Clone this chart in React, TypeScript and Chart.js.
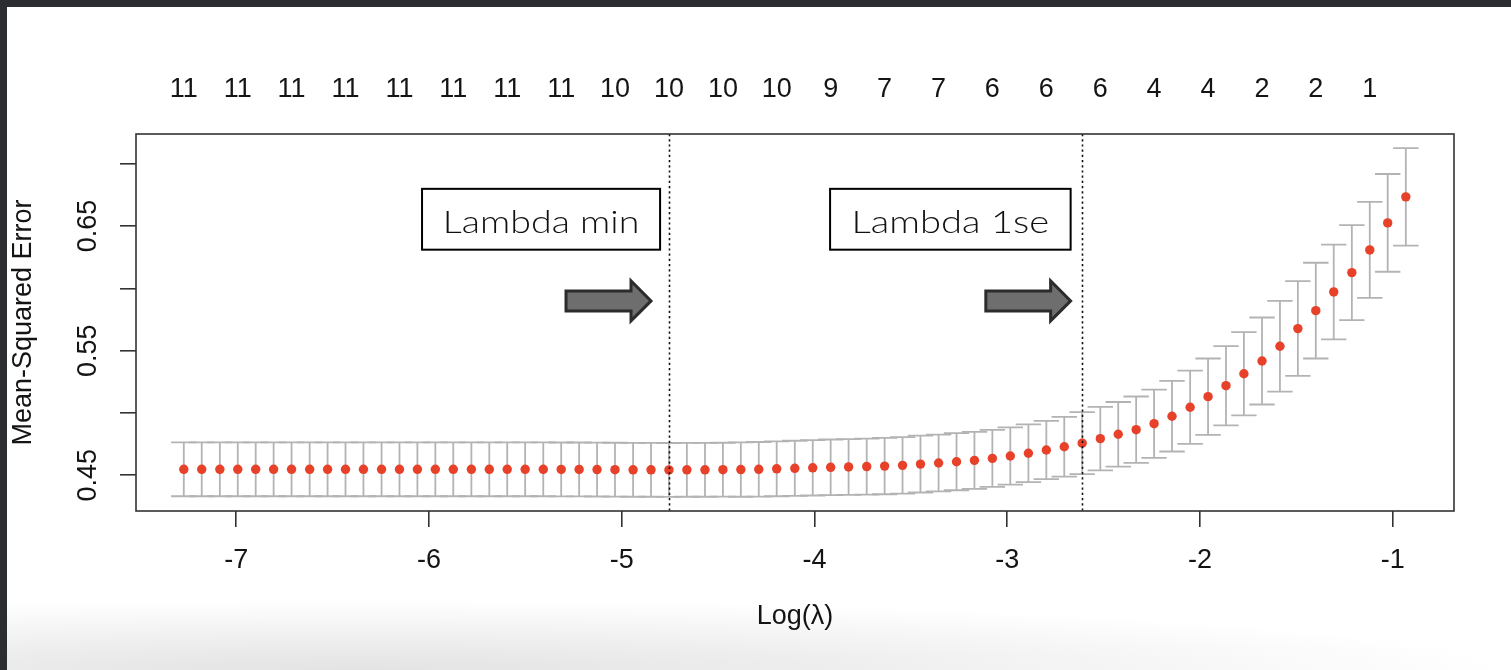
import React, { useEffect, useRef } from 'react';
import { Chart, registerables } from 'chart.js';

Chart.register(...registerables);

// ---- data ----
const logLambda = [
  -7.272, -7.179, -7.085, -6.992, -6.899, -6.806, -6.713, -6.619, -6.526, -6.433,
  -6.340, -6.246, -6.153, -6.060, -5.967, -5.874, -5.780, -5.687, -5.594, -5.501,
  -5.407, -5.314, -5.221, -5.128, -5.035, -4.941, -4.848, -4.755, -4.662, -4.568,
  -4.475, -4.382, -4.289, -4.196, -4.102, -4.009, -3.916, -3.823, -3.729, -3.636,
  -3.543, -3.450, -3.356, -3.263, -3.170, -3.077, -2.984, -2.890, -2.797, -2.704,
  -2.611, -2.517, -2.424, -2.331, -2.238, -2.145, -2.051, -1.958, -1.865, -1.772,
  -1.678, -1.585, -1.492, -1.399, -1.306, -1.212, -1.119, -1.026, -0.932,
];

const cvMean = [
  0.4548, 0.4548, 0.4548, 0.4548, 0.4548, 0.4548, 0.4548, 0.4548, 0.4548, 0.4548,
  0.4548, 0.4548, 0.4548, 0.4548, 0.4548, 0.4548, 0.4548, 0.4548, 0.4548, 0.4548,
  0.4548, 0.4547, 0.4547, 0.4546, 0.4545, 0.4544, 0.4544, 0.4543, 0.4544, 0.4544,
  0.4545, 0.4546, 0.4548, 0.4552, 0.4556, 0.4560, 0.4564, 0.4567, 0.4570, 0.4574,
  0.4580, 0.4590, 0.4599, 0.4609, 0.4620, 0.4636, 0.4655, 0.4677, 0.4703, 0.4729,
  0.4758, 0.4794, 0.4829, 0.4866, 0.4914, 0.4974, 0.5046, 0.5131, 0.5219, 0.5315,
  0.5417, 0.5535, 0.5677, 0.5821, 0.5971, 0.6126, 0.6308, 0.6525, 0.6734,
];

const cvSd = [
  0.0216, 0.0216, 0.0216, 0.0216, 0.0216, 0.0216, 0.0216, 0.0216, 0.0216, 0.0216,
  0.0216, 0.0216, 0.0216, 0.0216, 0.0216, 0.0216, 0.0216, 0.0216, 0.0216, 0.0216,
  0.0216, 0.0216, 0.0216, 0.0216, 0.0216, 0.0216, 0.0216, 0.0216, 0.0216, 0.0216,
  0.0216, 0.0218, 0.0219, 0.0220, 0.0221, 0.0222, 0.0223, 0.0224, 0.0225, 0.0226,
  0.0227, 0.0228, 0.0228, 0.0229, 0.0229, 0.0229, 0.0230, 0.0231, 0.0234, 0.0240,
  0.0249, 0.0255, 0.0259, 0.0266, 0.0274, 0.0283, 0.0294, 0.0306, 0.0318, 0.0334,
  0.0349, 0.0364, 0.0380, 0.0384, 0.0380, 0.0381, 0.0385, 0.0392, 0.0391,
];

// number of non-zero coefficients, shown above every third lambda
const dfLabels = [
  '11', '11', '11', '11', '11', '11', '11', '11', '10', '10', '10', '10',
  '9', '7', '7', '6', '6', '6', '4', '4', '2', '2', '1',
];
const dfEvery = 3;

const xTicks = [-7, -6, -5, -4, -3, -2, -1];
const yTicks = [0.45, 0.5, 0.55, 0.6, 0.65, 0.7];
const yTickLabels = ['0.45', '', '0.55', '', '0.65', ''];

const lambdaMinIndex = 27;
const lambda1seIndex = 50;

const xTitle = 'Log(λ)';
const yTitle = 'Mean-Squared Error';

// annotation placement (data units)
const annotations = [
  { text: 'Lambda min', lineIndex: lambdaMinIndex, boxX: [-6.036, -4.801], arrowX: [-5.289, -4.848] },
  { text: 'Lambda 1se', lineIndex: lambda1seIndex, boxX: [-3.919, -2.671], arrowX: [-3.111, -2.671] },
];
const boxY = [0.6798, 0.631];
const arrowY = 0.5899;

// ---- styles ----
const FONT = '"Liberation Sans", Arial, Helvetica, sans-serif';
const TEXT = '#141414';
const AXIS = '#333333';
const RED = '#e8412a';
const BAR = '#b3b3b3';

const X_MIN = -7.52;
const X_MAX = -0.682;
const Y_MIN = 0.42136;
const Y_MAX = 0.7238;

const overlayPlugin = {
  id: 'cvOverlay',
  beforeDatasetsDraw(chart: any) {
    const { ctx, scales } = chart;
    const xs = scales.x;
    const ys = scales.y;
    ctx.save();
    ctx.strokeStyle = BAR;
    ctx.lineWidth = 1.8;
    const cap = 12.7;
    for (let i = 0; i < logLambda.length; i++) {
      const px = xs.getPixelForValue(logLambda[i]);
      const top = ys.getPixelForValue(cvMean[i] + cvSd[i]);
      const bot = ys.getPixelForValue(cvMean[i] - cvSd[i]);
      ctx.beginPath();
      ctx.moveTo(px, top);
      ctx.lineTo(px, bot);
      ctx.moveTo(px - cap, top);
      ctx.lineTo(px + cap, top);
      ctx.moveTo(px - cap, bot);
      ctx.lineTo(px + cap, bot);
      ctx.stroke();
    }
    ctx.restore();
  },
  afterDatasetsDraw(chart: any) {
    const { ctx, scales, chartArea } = chart;
    const xs = scales.x;
    const ys = scales.y;
    ctx.save();
    // dotted reference lines
    ctx.strokeStyle = '#111';
    ctx.lineWidth = 1.6;
    ctx.setLineDash([2.2, 3.0]);
    [lambdaMinIndex, lambda1seIndex].forEach((idx) => {
      const px = Math.round(xs.getPixelForValue(logLambda[idx])) + 0.5;
      ctx.beginPath();
      ctx.moveTo(px, chartArea.top);
      ctx.lineTo(px, chartArea.bottom);
      ctx.stroke();
    });
    ctx.setLineDash([]);

    annotations.forEach((a) => {
      const x0 = xs.getPixelForValue(a.boxX[0]);
      const x1 = xs.getPixelForValue(a.boxX[1]);
      const y0 = ys.getPixelForValue(boxY[0]);
      const y1 = ys.getPixelForValue(boxY[1]);
      ctx.fillStyle = '#fff';
      ctx.fillRect(x0, y0, x1 - x0, y1 - y0);
      ctx.strokeStyle = '#000';
      ctx.lineWidth = 2;
      ctx.strokeRect(x0, y0, x1 - x0, y1 - y0);

      ctx.font = '300 31px Lato, "Open Sans", sans-serif';
      const m = ctx.measureText(a.text);
      const ink = m.actualBoundingBoxLeft + m.actualBoundingBoxRight;
      const target = (x1 - x0) * 0.8;
      const sx = ink > 0 ? target / ink : 1;
      ctx.save();
      ctx.translate((x0 + x1) / 2, y0 + (y1 - y0) * 0.725);
      ctx.scale(sx, 1);
      ctx.fillStyle = '#111';
      ctx.textAlign = 'center';
      ctx.textBaseline = 'alphabetic';
      ctx.fillText(a.text, 0, 0);
      ctx.restore();

      // arrow
      const ax0 = xs.getPixelForValue(a.arrowX[0]);
      const ax1 = xs.getPixelForValue(a.arrowX[1]);
      const ay = ys.getPixelForValue(arrowY);
      const bodyH = 10;
      const headH = 20;
      const headL = 20;
      const hx = ax1 - headL;
      ctx.beginPath();
      ctx.moveTo(ax0, ay - bodyH);
      ctx.lineTo(hx, ay - bodyH);
      ctx.lineTo(hx, ay - headH);
      ctx.lineTo(ax1, ay);
      ctx.lineTo(hx, ay + headH);
      ctx.lineTo(hx, ay + bodyH);
      ctx.lineTo(ax0, ay + bodyH);
      ctx.closePath();
      ctx.fillStyle = '#6e6e6e';
      ctx.fill();
      ctx.lineJoin = 'miter';
      ctx.lineWidth = 3;
      ctx.strokeStyle = '#2c2c2c';
      ctx.stroke();
    });
    ctx.restore();
  },
  afterDraw(chart: any) {
    const { ctx, chartArea } = chart;
    ctx.save();
    ctx.strokeStyle = AXIS;
    ctx.lineWidth = 1.6;
    ctx.strokeRect(chartArea.left, chartArea.top, chartArea.right - chartArea.left, chartArea.bottom - chartArea.top);
    ctx.restore();
  },
};

export default function App() {
  const canvasRef = useRef<HTMLCanvasElement | null>(null);

  useEffect(() => {
    const canvas = canvasRef.current;
    if (!canvas) return;
    const axisFont = { family: FONT, size: 27 };
    const dfPositions = dfLabels.map((_, k) => logLambda[k * dfEvery]);

    const chart = new Chart(canvas, {
      type: 'scatter',
      data: {
        datasets: [
          {
            data: logLambda.map((x, i) => ({ x, y: cvMean[i] })),
            backgroundColor: RED,
            borderWidth: 0,
            pointRadius: 4.7,
            pointHoverRadius: 4.7,
          },
        ],
      },
      options: {
        animation: false,
        responsive: false,
        events: [],
        layout: { padding: { left: 0, top: 0, right: 57, bottom: 37 } },
        plugins: { legend: { display: false }, tooltip: { enabled: false } },
        scales: {
          x: {
            type: 'linear',
            position: 'bottom',
            min: X_MIN,
            max: X_MAX,
            afterBuildTicks: (s: any) => {
              s.ticks = xTicks.map((v) => ({ value: v }));
            },
            afterFit: (s: any) => {
              s.height = 122;
            },
            grid: { display: true, drawOnChartArea: false, drawTicks: true, tickLength: 16, color: AXIS, lineWidth: 1.6 },
            border: { display: false },
            ticks: {
              autoSkip: false,
              minRotation: 0,
              maxRotation: 0,
              padding: 17,
              color: TEXT,
              font: axisFont,
              callback: (v: any) => String(v),
            },
            title: { display: true, text: xTitle, color: TEXT, font: axisFont, padding: { top: 0, bottom: 0 } },
          },
          x2: {
            type: 'linear',
            position: 'top',
            min: X_MIN,
            max: X_MAX,
            afterBuildTicks: (s: any) => {
              s.ticks = dfPositions.map((v) => ({ value: v }));
            },
            afterFit: (s: any) => {
              s.height = 127;
            },
            grid: { display: false, drawTicks: false },
            border: { display: false },
            ticks: {
              autoSkip: false,
              minRotation: 0,
              maxRotation: 0,
              padding: 28,
              color: TEXT,
              font: axisFont,
              callback: (_v: any, i: number) => dfLabels[i],
            },
          },
          y: {
            type: 'linear',
            position: 'left',
            min: Y_MIN,
            max: Y_MAX,
            afterBuildTicks: (s: any) => {
              s.ticks = yTicks.map((v) => ({ value: v }));
            },
            afterFit: (s: any) => {
              s.width = 129;
            },
            grid: { display: true, drawOnChartArea: false, drawTicks: true, tickLength: 16, color: AXIS, lineWidth: 1.6 },
            border: { display: false },
            ticks: {
              autoSkip: false,
              minRotation: 90,
              maxRotation: 90,
              crossAlign: 'center',
              padding: 5,
              color: TEXT,
              font: axisFont,
              callback: (_v: any, i: number) => yTickLabels[i],
            },
            title: { display: true, text: yTitle, color: TEXT, font: axisFont, padding: { top: 0, bottom: 0 } },
          },
        },
      } as any,
      plugins: [overlayPlugin],
    });
    return () => chart.destroy();
  }, []);

  return (
    <div style={{ position: 'fixed', left: 0, top: 0, right: 0, bottom: 0, background: '#2b2d31' }}>
      <div
        style={{
          position: 'absolute',
          left: 7,
          top: 7,
          right: 0,
          bottom: 0,
          background:
            'radial-gradient(ellipse 1150px 70px at 350px 100%, #e3e3e3 0%, #ececec 35%, rgba(255,255,255,0) 100%), #ffffff',
        }}
      >
        <canvas ref={canvasRef} width={1504} height={663} style={{ display: 'block' }} />
      </div>
    </div>
  );
}
